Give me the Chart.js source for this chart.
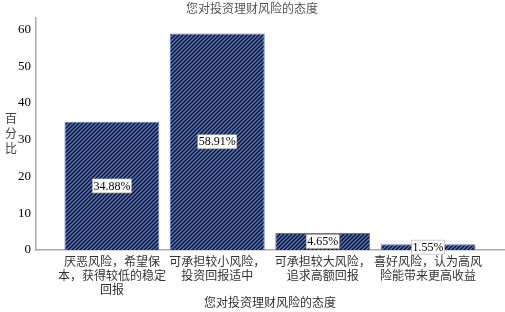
<!DOCTYPE html>
<html lang="zh">
<head>
    <meta charset="UTF-8">
    <title>您对投资理财风险的态度</title>
    <script src="https://cdn.jsdelivr.net/npm/chart.js"></script>
    <style>
        html, body { margin: 0; padding: 0; background: #fff; }
        #wrap { width: 505px; height: 312px; }
    </style>
</head>
<body>
    <div id="wrap"><canvas id="riskChart"></canvas></div>

    <script>
        // 数据
        const categories = [
            ['厌恶风险，希望保', '本，获得较低的稳定', '回报'],
            ['可承担较小风险，', '投资回报适中'],
            ['可承担较大风险，', '追求高额回报'],
            ['喜好风险，认为高风', '险能带来更高收益']
        ];
        const percents = [34.88, 58.91, 4.65, 1.55];
        const yTicks = [0, 10, 20, 30, 40, 50, 60];
        const chartTitle = '您对投资理财风险的态度';
        const xTitle = '您对投资理财风险的态度';
        const yTitle = ['百', '分', '比'];

        const serif = '"Liberation Serif", "DejaVu Serif", serif';
        const cjk = '"Noto Sans CJK SC", sans-serif';

        // 斜线填充
        function makeHatch() {
            const c = document.createElement('canvas');
            c.width = 4; c.height = 4;
            const g = c.getContext('2d');
            g.fillStyle = '#0e1328';
            g.fillRect(0, 0, 4, 4);
            g.strokeStyle = '#5678c4';
            g.lineWidth = 1.4;
            g.beginPath();
            g.moveTo(-1, 5); g.lineTo(5, -1);
            g.moveTo(-1, 1); g.lineTo(1, -1);
            g.moveTo(3, 5); g.lineTo(5, 3);
            g.stroke();
            return g.createPattern(c, 'repeat');
        }

        // 柱内百分比标签 + 纵轴标题
        const extras = {
            id: 'extras',
            afterDatasetsDraw(chart) {
                const ctx = chart.ctx;
                const meta = chart.getDatasetMeta(0);
                ctx.save();
                ctx.font = '12px ' + serif;
                ctx.textAlign = 'center';
                ctx.textBaseline = 'middle';
                meta.data.forEach((bar, i) => {
                    const txt = percents[i].toFixed(2) + '%';
                    const w = ctx.measureText(txt).width + 2;
                    const cy = (bar.y + bar.base) / 2;
                    ctx.fillStyle = '#fff';
                    ctx.fillRect(bar.x - w / 2, cy - 7, w, 14);
                    ctx.strokeStyle = '#aaa';
                    ctx.lineWidth = 0.6;
                    ctx.strokeRect(bar.x - w / 2, cy - 7, w, 14);
                    ctx.fillStyle = '#000';
                    ctx.fillText(txt, bar.x, cy + 0.5);
                });

                ctx.font = '12px ' + cjk;
                ctx.fillStyle = '#444';
                yTitle.forEach((ch, i) => {
                    ctx.fillText(ch, 11, 118 + i * 15);
                });
                ctx.restore();
            }
        };

        const ctxRisk = document.getElementById('riskChart').getContext('2d');
        const riskChart = new Chart(ctxRisk, {
            type: 'bar',
            data: {
                datasets: [{
                    data: percents.map((v, i) => ({ x: i, y: v })),
                    backgroundColor: makeHatch(),
                    borderColor: '#5678c4',
                    borderWidth: 1,
                    categoryPercentage: 1,
                    barPercentage: 0.9
                }]
            },
            options: {
                responsive: true,
                maintainAspectRatio: false,
                animation: false,
                layout: { padding: { left: 0, right: 1, top: 0, bottom: 2 } },
                plugins: {
                    legend: { display: false },
                    tooltip: { enabled: false },
                    title: {
                        display: true,
                        text: chartTitle,
                        color: '#555',
                        font: { family: cjk, size: 12, weight: 'normal' },
                        padding: { top: 1, bottom: 2 }
                    }
                },
                scales: {
                    x: {
                        type: 'linear',
                        offset: false,
                        min: -0.72,
                        max: 3.72,
                        grid: { display: false, drawTicks: false },
                        border: { color: '#aaa', width: 1.5 },
                        afterBuildTicks: s => { s.ticks = categories.map((c, i) => ({ value: i })); },
                        afterFit: s => { s.height = 60; },
                        ticks: {
                            autoSkip: false,
                            maxRotation: 0,
                            padding: 4,
                            color: '#333',
                            font: { family: cjk, size: 12, lineHeight: 1.17 },
                            callback: v => categories[v]
                        },
                        title: {
                            display: true,
                            text: xTitle,
                            color: '#333',
                            font: { family: cjk, size: 12 },
                            padding: { top: 0, bottom: 0 }
                        }
                    },
                    y: {
                        min: 0,
                        max: 63.3,
                        grid: { display: false, drawTicks: false },
                        border: { color: '#aaa', width: 1.5 },
                        afterBuildTicks: s => { s.ticks = yTicks.map(v => ({ value: v })); },
                        afterFit: s => { s.width = 36; },
                        ticks: {
                            padding: 5,
                            color: '#000',
                            font: { family: serif, size: 13 }
                        }
                    }
                }
            },
            plugins: [extras]
        });
    </script>
</body>
</html>
